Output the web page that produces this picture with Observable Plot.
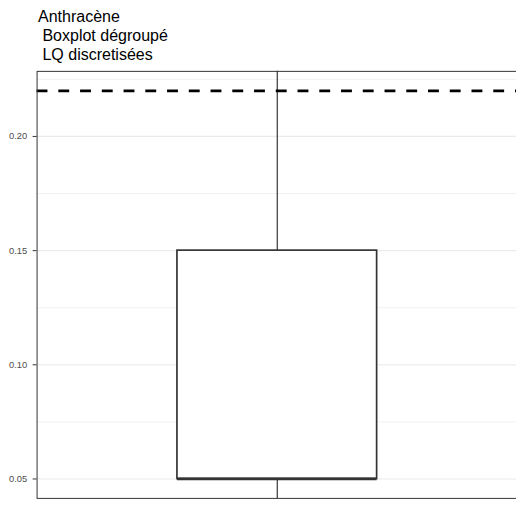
<!DOCTYPE html>
<html><head><meta charset="utf-8">
<script src="https://cdn.jsdelivr.net/npm/d3@7"></script>
<script src="https://cdn.jsdelivr.net/npm/@observablehq/plot@0.6"></script>
<style>
html,body{margin:0;padding:0;background:#fff;overflow:hidden;width:516px;height:505px}
#title{font-family:"Liberation Sans",Arial,sans-serif;font-size:16px;line-height:19px;white-space:pre;color:#000;padding:7px 0 0 38px;height:53px}
#chart{width:516px;overflow:hidden}
#chart svg{display:block}
</style></head><body>
<div id="title"></div>
<div id="chart"></div>
<script>
const titleLines = ["Anthracène", " Boxplot dégroupé", " LQ discretisées"];
const categories = ["Anthracène"];
const q1 = [0.05];
const median = [0.05];
const q3 = [0.15];
const whiskerLow = [0.02];
const whiskerHigh = [0.30];
const threshold = [0.22];
const yLimits = [0.05, 0.22];
const majorTicks = [0.05, 0.10, 0.15, 0.20];
const minorTicks = [0.075, 0.125, 0.175, 0.225];
const tickLabels = ["0.05", "0.10", "0.15", "0.20"];

document.getElementById("title").textContent = titleLines.join("\n");

const boxes = categories.map((c, i) => ({
  cat: c, q1: q1[i], med: median[i], q3: q3[i], lo: whiskerLow[i], hi: whiskerHigh[i]
}));
const span = yLimits[1] - yLimits[0];
const yDomain = [yLimits[0] - 0.05 * span, yLimits[1] + 0.05 * span];

const chart = Plot.plot({
  width: 522,
  height: 445,
  marginTop: 11,
  marginBottom: 2,
  marginLeft: 37,
  marginRight: 0,
  style: {fontFamily: "'Liberation Sans', Arial, sans-serif", background: "white"},
  x: {type: "band", domain: categories, padding: 0.412, axis: null},
  y: {domain: yDomain, axis: null},
  marks: [
    Plot.ruleY(minorTicks, {stroke: "#ebebeb", strokeWidth: 0.7}),
    Plot.ruleY(majorTicks, {stroke: "#ebebeb", strokeWidth: 1.2}),
    Plot.ruleX(boxes, {x: "cat", y1: "lo", y2: "hi", stroke: "#333333", strokeWidth: 1.2, clip: true}),
    Plot.barY(boxes, {x: "cat", y1: "q1", y2: "q3", fill: "white", stroke: "#333333", strokeWidth: 1.7}),
    Plot.tickY(boxes, {x: "cat", y: "med", stroke: "#333333", strokeWidth: 2.8}),
    Plot.ruleY(threshold, {stroke: "black", strokeWidth: 2.8, strokeDasharray: "11,11"}),
    Plot.frame({stroke: "#333333", strokeWidth: 1}),
    Plot.axisY(majorTicks, {
      tickSize: 4, tickPadding: 6, stroke: "#333333", fill: "#4d4d4d",
      fontSize: 9.5, tickFormat: (d) => tickLabels[majorTicks.indexOf(d)]
    })
  ]
});
document.getElementById("chart").appendChild(chart);
</script>
</body></html>
